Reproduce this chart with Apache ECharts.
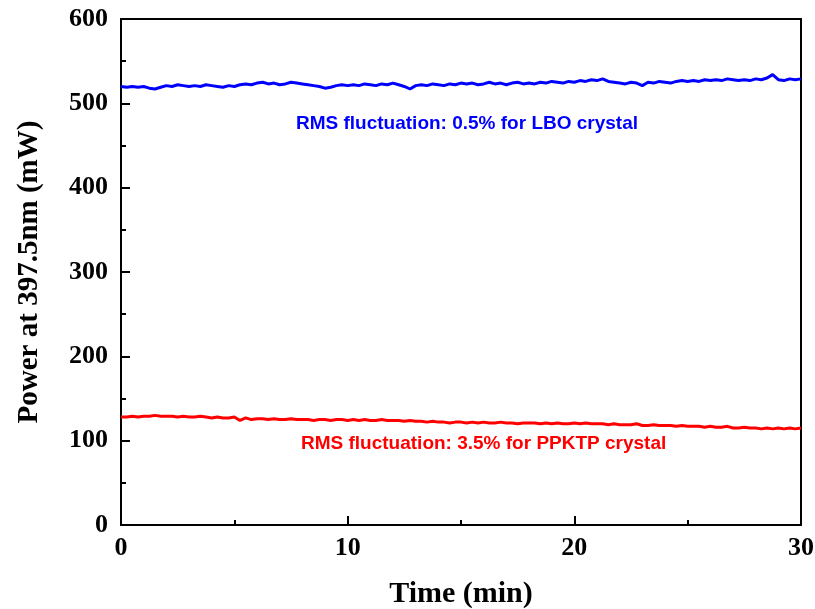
<!DOCTYPE html>
<html>
<head>
<meta charset="utf-8">
<script src="https://cdn.jsdelivr.net/npm/echarts@6/dist/echarts.min.js"></script>
<style>
  html, body { margin: 0; padding: 0; background: #fff; }
  #chart { width: 815px; height: 609px; }
</style>
</head>
<body>
<div id="chart"></div>
<script>
// time axis: 0..30 min in 0.25 min steps
const timeStep = 0.25;
const xTicks = [0, 10, 20, 30];
const yTicks = [0, 100, 200, 300, 400, 500, 600];

// LBO crystal power (mW)
const lboPower = [
  520, 519, 520, 519, 520,
  518, 517, 519, 521,
  520, 522, 521, 520,
  521, 520, 522, 521,
  520, 519, 521, 520,
  522, 523, 522, 524,
  525, 523, 524, 522,
  523, 525, 524, 523,
  522, 521, 520, 518,
  519, 521, 522, 521,
  522, 521, 523, 522,
  521, 523, 522, 524,
  522, 520, 517, 521,
  522, 521, 523, 522,
  521, 523, 522, 524,
  523, 524, 522, 523,
  525, 523, 524, 522,
  524, 525, 523, 524,
  523, 525, 524, 526,
  525, 524, 526, 525,
  527, 526, 528, 527,
  529, 526, 525, 524,
  523, 525, 524, 521,
  525, 524, 526, 525,
  524, 526, 527, 526,
  527, 526, 528, 527,
  528, 527, 529, 528,
  527, 528, 527, 529,
  528, 530, 534, 528,
  527, 529, 528, 529
];

// PPKTP crystal power (mW)
const ppktpPower = [
  128, 128, 129, 128, 129,
  129, 130, 129, 129,
  129, 128, 129, 128,
  128, 129, 128, 127,
  128, 127, 127, 128,
  124, 127, 125, 126,
  126, 125, 126, 125,
  125, 126, 125, 125,
  125, 124, 125, 125,
  124, 125, 125, 124,
  125, 124, 125, 124,
  124, 125, 124, 124,
  124, 123, 124, 123,
  123, 122, 123, 122,
  122, 121, 122, 122,
  121, 122, 121, 122,
  121, 121, 122, 121,
  121, 120, 121, 121,
  121, 120, 121, 120,
  121, 120, 120, 121,
  120, 121, 120, 120,
  120, 119, 120, 119,
  119, 119, 120, 118,
  118, 119, 118, 118,
  118, 117, 118, 117,
  117, 117, 116, 117,
  116, 116, 117, 115,
  115, 116, 115, 115,
  114, 115, 114, 115,
  114, 115, 114, 115
];

const lboNote = 'RMS fluctuation: 0.5% for LBO crystal';
const ppktpNote = 'RMS fluctuation: 3.5% for PPKTP crystal';

const toPairs = (vals) => vals.map((v, i) => [i * timeStep, v]);

const chart = echarts.init(document.getElementById('chart'), null, { renderer: 'canvas' });

const serif = '"Liberation Serif", "Times New Roman", serif';
const sans = '"Liberation Sans", Arial, sans-serif';
const axisColor = '#000';

chart.setOption({
  animation: false,
  backgroundColor: '#fff',
  grid: {
    left: 121, right: 14, top: 19, bottom: 84,
    containLabel: false, outerBoundsMode: 'none',
    show: true, borderColor: axisColor, borderWidth: 2, backgroundColor: 'transparent'
  },
  xAxis: {
    type: 'value',
    min: xTicks[0],
    max: xTicks[xTicks.length - 1],
    interval: 10,
    name: 'Time (min)',
    nameLocation: 'middle',
    nameGap: 54,
    nameTextStyle: { fontFamily: serif, fontWeight: 'bold', fontSize: 30, color: '#000' },
    axisLine: { show: true, lineStyle: { color: axisColor, width: 2 } },
    axisTick: { show: true, inside: true, length: 9, lineStyle: { color: axisColor, width: 2 } },
    minorTick: { show: true, splitNumber: 2, length: 5, lineStyle: { color: axisColor, width: 2 } },
    axisLabel: { fontFamily: serif, fontWeight: 'bold', fontSize: 26, color: '#000', margin: 10 },
    splitLine: { show: false }
  },
  yAxis: {
    type: 'value',
    min: yTicks[0],
    max: yTicks[yTicks.length - 1],
    interval: 100,
    name: 'Power at 397.5nm (mW)',
    nameLocation: 'middle',
    nameGap: 77,
    nameTextStyle: { fontFamily: serif, fontWeight: 'bold', fontSize: 29, color: '#000' },
    axisLine: { show: true, lineStyle: { color: axisColor, width: 2 } },
    axisTick: { show: true, inside: true, length: 9, lineStyle: { color: axisColor, width: 2 } },
    minorTick: { show: true, splitNumber: 2, length: 5, lineStyle: { color: axisColor, width: 2 } },
    axisLabel: { fontFamily: serif, fontWeight: 'bold', fontSize: 26, color: '#000', margin: 13 },
    splitLine: { show: false }
  },
  series: [
    {
      name: 'LBO',
      type: 'line',
      data: toPairs(lboPower),
      showSymbol: false,
      lineStyle: { color: '#0000ff', width: 3 },
      itemStyle: { color: '#0000ff' }
    },
    {
      name: 'PPKTP',
      type: 'line',
      data: toPairs(ppktpPower),
      showSymbol: false,
      lineStyle: { color: '#ff0000', width: 3 },
      itemStyle: { color: '#ff0000' }
    }
  ],
  graphic: [
    {
      type: 'text', left: 296, top: 114,
      style: { text: lboNote, fill: '#0000ff', font: 'bold 19px ' + sans }
    },
    {
      type: 'text', left: 301, top: 434,
      style: { text: ppktpNote, fill: '#ff0000', font: 'bold 19px ' + sans }
    }
  ]
});
</script>
</body>
</html>
